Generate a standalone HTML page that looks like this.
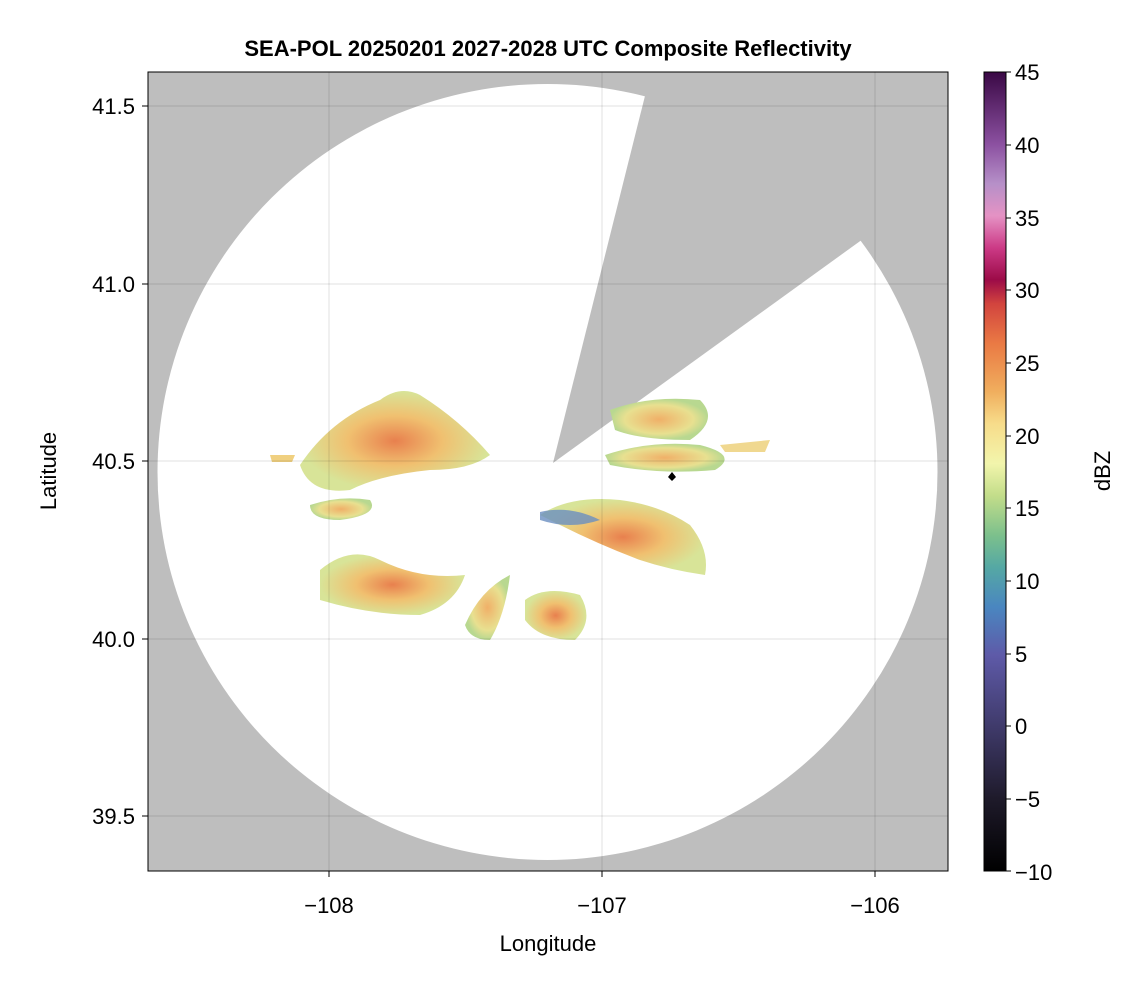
<!DOCTYPE html>
<html><head><meta charset="utf-8"><style>
body{margin:0;background:#fff;width:1146px;height:990px;overflow:hidden;font-family:"Liberation Sans",sans-serif}
</style></head><body>
<svg width="1146" height="990" xmlns="http://www.w3.org/2000/svg" font-family="Liberation Sans, sans-serif">
<defs>
<clipPath id="pa"><rect x="148" y="72" width="800" height="799"/></clipPath>
<linearGradient id="cb" x1="0" y1="1" x2="0" y2="0">
<stop offset="0" stop-color="#000"/>
<stop offset="0.09" stop-color="#1e1a2a"/>
<stop offset="0.18" stop-color="#3f3a6a"/>
<stop offset="0.27" stop-color="#5e5aa8"/>
<stop offset="0.33" stop-color="#4a86c0"/>
<stop offset="0.38" stop-color="#55a8a4"/>
<stop offset="0.42" stop-color="#7cc08c"/>
<stop offset="0.47" stop-color="#c3dd8a"/>
<stop offset="0.51" stop-color="#f2f5ac"/>
<stop offset="0.56" stop-color="#f7dc8a"/>
<stop offset="0.60" stop-color="#f0ae5e"/>
<stop offset="0.66" stop-color="#ea7a44"/>
<stop offset="0.71" stop-color="#d2443e"/>
<stop offset="0.74" stop-color="#9c0b48"/>
<stop offset="0.78" stop-color="#cc3a86"/>
<stop offset="0.82" stop-color="#e592c4"/>
<stop offset="0.86" stop-color="#b690c8"/>
<stop offset="0.91" stop-color="#8b50a0"/>
<stop offset="1" stop-color="#3a0845"/>
</linearGradient>
<radialGradient id="e1"><stop offset="0" stop-color="#e8804e"/><stop offset="0.5" stop-color="#f0c070"/><stop offset="1" stop-color="#d8e498"/></radialGradient>
<radialGradient id="e2"><stop offset="0" stop-color="#f0b068"/><stop offset="0.7" stop-color="#e8e090"/><stop offset="1" stop-color="#b8d890"/></radialGradient>
</defs>
<rect x="148" y="72" width="800" height="799" fill="#bebebe"/>
<g clip-path="url(#pa)">
<ellipse cx="547.5" cy="472" rx="390" ry="388" fill="#fff"/>
<polygon points="553,463 659,40 1000,40 1000,140" fill="#bebebe"/>
<path d="M300,465 Q330,420 380,400 Q400,385 420,395 Q460,420 490,455 Q470,470 430,470 Q380,475 350,490 Q310,495 300,465Z" fill="url(#e1)"/>
<path d="M310,505 Q340,495 370,500 Q380,515 340,520 Q310,520 310,505Z" fill="url(#e2)"/>
<path d="M540,515 Q570,495 620,500 Q660,505 690,525 Q710,550 705,575 Q670,570 640,560 Q600,545 560,525Z" fill="url(#e1)"/>
<path d="M540,512 Q570,505 600,520 Q570,530 540,520Z" fill="#6a8ec0" opacity="0.8"/>
<path d="M610,410 Q650,395 700,400 Q720,420 690,440 Q640,440 615,430Z" fill="url(#e2)"/>
<path d="M605,455 Q650,440 700,445 Q740,455 715,470 Q660,475 610,465Z" fill="url(#e2)"/>
<path d="M320,570 Q350,545 380,560 Q420,580 465,575 Q455,605 420,615 Q370,615 320,600Z" fill="url(#e1)"/>
<path d="M465,625 Q480,590 510,575 Q505,615 490,640 Q470,640 465,625Z" fill="url(#e2)"/>
<path d="M525,600 Q545,585 580,595 Q595,620 575,640 Q540,640 525,620Z" fill="url(#e1)"/>
<path d="M270,455 L295,455 L292,462 L272,462Z" fill="#f0d080"/>
<path d="M720,445 L770,440 L765,452 L725,452Z" fill="#f0d890"/>
<g stroke="#000" stroke-opacity="0.12" stroke-width="1">
<line x1="329" y1="72" x2="329" y2="871"/><line x1="602" y1="72" x2="602" y2="871"/><line x1="875" y1="72" x2="875" y2="871"/>
<line x1="148" y1="106" x2="948" y2="106"/><line x1="148" y1="284" x2="948" y2="284"/><line x1="148" y1="461" x2="948" y2="461"/><line x1="148" y1="639" x2="948" y2="639"/><line x1="148" y1="816" x2="948" y2="816"/>
</g>
<polygon points="672,472 676,477 672,481 668,477" fill="#000"/>
</g>
<rect x="148" y="72" width="800" height="799" fill="none" stroke="#000" stroke-width="1"/>
<g stroke="#000"><line x1="329" y1="871" x2="329" y2="877"/><line x1="602" y1="871" x2="602" y2="877"/><line x1="875" y1="871" x2="875" y2="877"/>
<line x1="142" y1="106" x2="148" y2="106"/><line x1="142" y1="284" x2="148" y2="284"/><line x1="142" y1="461" x2="148" y2="461"/><line x1="142" y1="639" x2="148" y2="639"/><line x1="142" y1="816" x2="148" y2="816"/></g>
<g font-size="22" fill="#000">
<g text-anchor="middle"><text x="329" y="913">−108</text><text x="602" y="913">−107</text><text x="875" y="913">−106</text></g>
<g text-anchor="end"><text x="135" y="114">41.5</text><text x="135" y="292">41.0</text><text x="135" y="469">40.5</text><text x="135" y="647">40.0</text><text x="135" y="824">39.5</text></g>
<text x="548" y="951" text-anchor="middle">Longitude</text>
<text transform="translate(56,471) rotate(-90)" text-anchor="middle">Latitude</text>
<text transform="translate(1110,471) rotate(-90)" text-anchor="middle">dBZ</text>
</g>
<text x="548" y="56" text-anchor="middle" font-size="22" font-weight="bold">SEA-POL 20250201 2027-2028 UTC Composite Reflectivity</text>
<rect x="984" y="72" width="22" height="799" fill="url(#cb)" stroke="#000" stroke-width="1"/>
<g font-size="22">
<text x="1015" y="80">45</text><text x="1015" y="153">40</text><text x="1015" y="226">35</text><text x="1015" y="298">30</text><text x="1015" y="371">25</text><text x="1015" y="444">20</text><text x="1015" y="516">15</text><text x="1015" y="589">10</text><text x="1015" y="662">5</text><text x="1015" y="734">0</text><text x="1015" y="807">−5</text><text x="1015" y="880">−10</text>
</g>
<g stroke="#000"><line x1="1006" y1="72" x2="1011" y2="72"/><line x1="1006" y1="145" x2="1011" y2="145"/><line x1="1006" y1="218" x2="1011" y2="218"/><line x1="1006" y1="290" x2="1011" y2="290"/><line x1="1006" y1="363" x2="1011" y2="363"/><line x1="1006" y1="436" x2="1011" y2="436"/><line x1="1006" y1="508" x2="1011" y2="508"/><line x1="1006" y1="581" x2="1011" y2="581"/><line x1="1006" y1="654" x2="1011" y2="654"/><line x1="1006" y1="726" x2="1011" y2="726"/><line x1="1006" y1="799" x2="1011" y2="799"/><line x1="1006" y1="871" x2="1011" y2="871"/></g>
</svg>
</body></html>
